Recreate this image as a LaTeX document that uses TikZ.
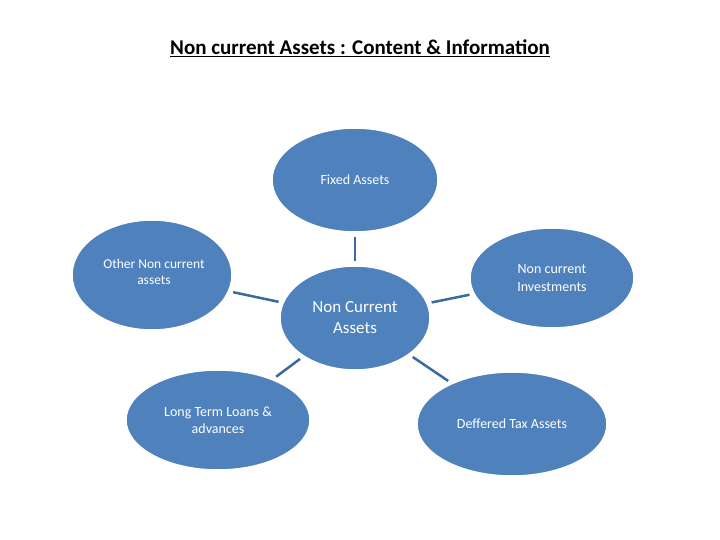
\documentclass[tikz,border=0pt]{standalone}
\usepackage{fontspec}
\setmainfont{Carlito}
\usetikzlibrary{shapes.geometric}
\definecolor{fillb}{HTML}{4F81BD}
\definecolor{edgeb}{HTML}{3A6A9E}
\begin{document}
\begin{tikzpicture}[x=1pt,y=-1pt,
  ell/.style={ellipse,fill=fillb,draw=white,line width=1.5pt,inner sep=0pt,text=white,align=center,font=\fontsize{14}{16}\selectfont},
  conn/.style={draw=edgeb,line width=2.5pt,shorten >=4pt,shorten <=4pt}]
\useasboundingbox (0,0) rectangle (720,540);
\node[font=\bfseries\fontsize{21}{25}\selectfont] (t) at (360,48) {\underline{Non current Assets : Content \& Information}};
\node[ell,minimum width=166,minimum height=104] (fa) at (355,180) {Fixed Assets};
\node[ell,minimum width=150,minimum height=104,font=\fontsize{17}{21}\selectfont] (c) at (355,318) {Non Current\\Assets};
\node[ell,minimum width=160,minimum height=110] (o) at (152,275) {};
\node[text=white,align=center,font=\fontsize{13.5}{16}\selectfont] (ot) at (154,272) {Other Non current\\assets};
\node[ell,minimum width=164,minimum height=100,font=\fontsize{14}{18}\selectfont] (ni) at (552,278) {Non current\\Investments};
\node[ell,minimum width=184,minimum height=100,font=\fontsize{14}{17}\selectfont] (lt) at (218,420) {Long Term Loans \&\\advances};
\node[ell,minimum width=190,minimum height=104] (dt) at (512,424) {Deffered Tax Assets};
\draw[conn] (fa) -- (c);
\draw[conn] (o) -- (c);
\draw[conn] (c) -- (ni);
\draw[conn] (c) -- (lt);
\draw[conn] (c) -- (dt);
\end{tikzpicture}
\end{document}
